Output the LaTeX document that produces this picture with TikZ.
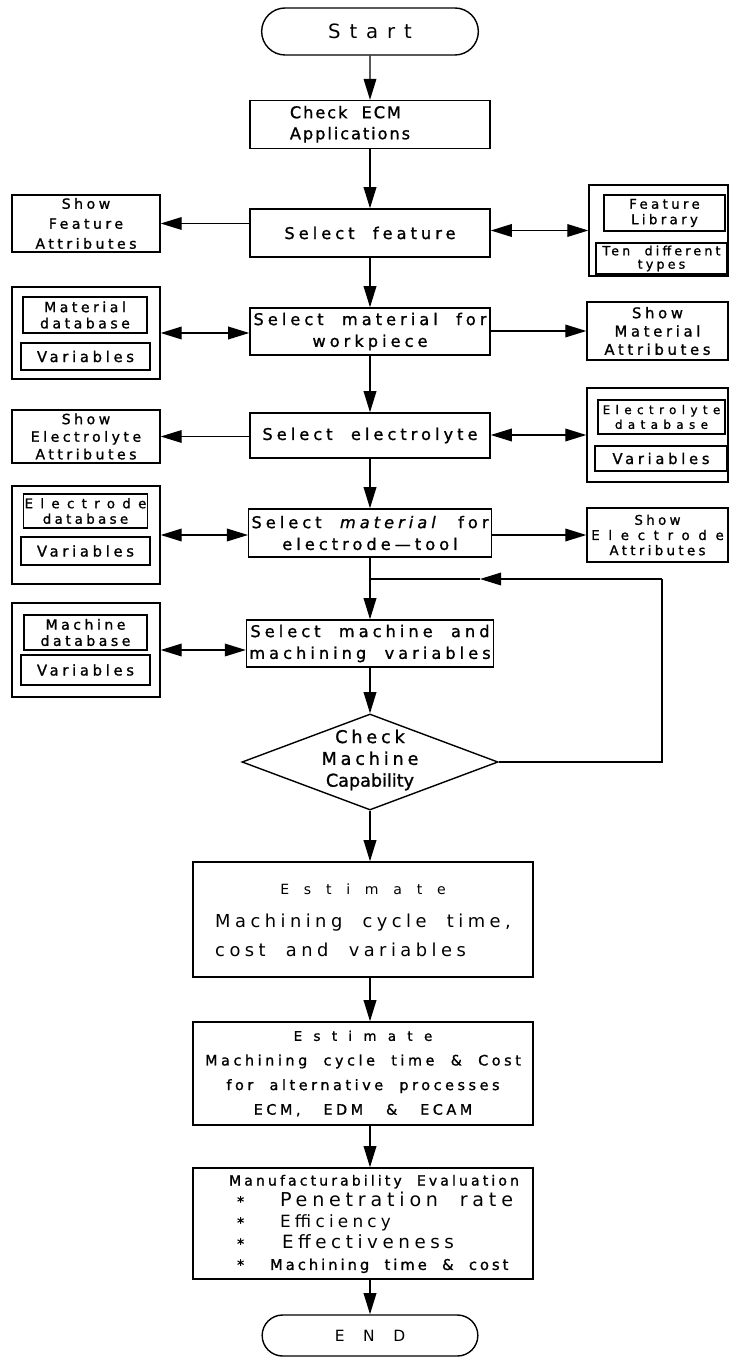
\documentclass[tikz,border=0pt]{standalone}
\usepackage{fontspec}
\setmainfont{DejaVu Sans}[LetterSpace=25,WordSpace=2,FakeBold=1.2]
\newfontfamily\widefont{DejaVu Sans}[LetterSpace=25,WordSpace=2.6]
\newfontfamily\thinfont{DejaVu Sans}[LetterSpace=25,WordSpace=2]
\usetikzlibrary{arrows.meta,shapes.geometric,shapes.misc}

\tikzset{
  proc/.style={draw,line width=1pt,minimum width=6cm,align=center,inner sep=2pt,
    font=\fontsize{11.5}{15.5}\selectfont},
  side/.style={draw,line width=0.9pt,minimum width=3.7cm,align=center,inner sep=1pt,
    font=\fontsize{10}{13}\selectfont},
  grp/.style={draw,line width=0.9pt,minimum width=3.7cm},
  db/.style={draw,line width=0.9pt,align=center,inner sep=1pt,
    font=\fontsize{10}{11.5}\selectfont},
  term/.style={draw,line width=1pt,rounded rectangle,minimum width=5.65cm,minimum height=1.175cm},
  flow/.style={line width=1pt,-{Triangle[length=15pt,width=9pt]}},
  twoway/.style={line width=1pt,{Triangle[length=15pt,width=9pt]}-{Triangle[length=15pt,width=9pt]}},
}

\begin{document}
\begin{tikzpicture}[x=0.025cm,y=-0.025cm]
\useasboundingbox (0,0) rectangle (729,1358);

% main column
\node[term] (start) at (370,31.5) {\thinfont\fontsize{14}{16}\selectfont\addfontfeature{LetterSpace=45}Start};
\node[proc,minimum height=1.125cm,font=\fontsize{11.5}{15}\selectfont\addfontfeature{LetterSpace=12}] (ecm) at (370,124.5)
  {\begin{tabular}{@{}l@{\hspace{1cm}}}Check ECM\\Applications\end{tabular}};
\node[proc,minimum height=1.2cm] (feat) at (370,233) {Select feature};
\node[proc,minimum height=1.175cm] (mat) at (370,331.5) {Select material for\\workpiece};
\node[proc,minimum height=1.125cm] (elyte) at (370,435.5) {Select electrolyte};
\node[proc,minimum height=1.2cm] (etool) at (370,533) {Select \textit{material} for\\electrode—tool};
\node[proc,minimum height=1.175cm] (mach) at (370,643.5) {Select machine and\\machining variables};
\node[draw,diamond,line width=1pt,minimum width=6.4cm,minimum height=2.4cm,inner sep=0pt] (cap) at (370,762) {};
\node[align=center,font=\fontsize{12.5}{15.5}\selectfont\addfontfeature{LetterSpace=22}] (captxt) at (370,760)
  {Check\\Machine\\{\addfontfeature{LetterSpace=0}Capability}};

% estimates
\node[proc,minimum width=8.5cm,minimum height=2.875cm,font=\widefont\fontsize{12.7}{20}\selectfont] (est1) at (363,919.5)
  {\begin{tabular}{@{}l@{}}
   \multicolumn{1}{@{}c@{}}{\fontsize{10}{20}\selectfont\addfontfeature{LetterSpace=105}Estimate}\\[4pt]
   Machining cycle time,\\
   cost and variables
   \end{tabular}};
\node[proc,minimum width=8.5cm,minimum height=2.575cm,font=\fontsize{10.2}{17.5}\selectfont] (est2) at (363,1073.5)
  {{\fontsize{9.5}{16}\selectfont\addfontfeature{LetterSpace=85}Estimate}\\
   Machining cycle time \& Cost\\
   for alternative processes\\
   ECM,\hspace{1.6em}EDM\hspace{1.6em}\&\hspace{1.6em}ECAM};
\node[proc,minimum width=8.5cm,minimum height=2.675cm,font=\fontsize{10}{15}\selectfont] (mfg) at (363,1223.5)
  {\begin{tabular}{@{\hspace{0.55cm}}l@{}}
   {\addfontfeature{LetterSpace=22}Manufacturability Evaluation}\\
   \hspace*{0.2cm}\makebox[1.075cm][l]{*}{\thinfont\fontsize{13.6}{15}\selectfont Penetration rate}\\
   \hspace*{0.2cm}\makebox[1.075cm][l]{*}{\thinfont\fontsize{12}{15}\selectfont Efficiency}\\
   \hspace*{0.2cm}\makebox[1.125cm][l]{*}{\thinfont\fontsize{13}{15}\selectfont Effectiveness}\\
   \hspace*{0.2cm}\makebox[0.825cm][l]{*}{\fontsize{10.5}{15}\selectfont\addfontfeature{LetterSpace=20}Machining time \& cost}
   \end{tabular}};
\node[term,minimum width=5.625cm,minimum height=1.025cm] (finish) at (370,1335.5)
  {\thinfont\fontsize{11}{13}\selectfont\addfontfeature{LetterSpace=120}END};

% left side
\node[side,minimum height=1.425cm,font=\fontsize{10}{14.2}\selectfont] (showfeat) at (86,223.5) {Show\\Feature\\Attributes};
\node[grp,minimum height=2.3cm] (matgrp) at (86,333) {};
\node[db,minimum width=3.1cm,minimum height=0.9cm] (matdb) at (85,315) {Material\\database};
\node[db,minimum width=3.225cm,minimum height=0.675cm,font=\fontsize{10.5}{12}\selectfont] (matvar) at (85.5,356.5) {Variables};
\node[side,minimum height=1.325cm,font=\fontsize{10}{12.5}\selectfont] (showelyte) at (86,436.5) {Show\\Electrolyte\\Attributes};
\node[grp,minimum height=2.45cm] (egrp) at (86,535) {};
\node[db,minimum width=3.075cm,minimum height=0.85cm,font=\fontsize{9.5}{11}\selectfont] (edb) at (85.5,511)
  {{\addfontfeature{LetterSpace=55}Electrode}\\database};
\node[db,minimum width=3.225cm,minimum height=0.7cm,font=\fontsize{10.5}{12}\selectfont] (evar) at (85.5,551) {Variables};
\node[grp,minimum height=2.35cm] (machgrp) at (86,650) {};
\node[db,minimum width=3.075cm,minimum height=0.875cm] (machdb) at (85.5,632.5) {Machine\\database};
\node[db,minimum width=3.225cm,minimum height=0.75cm,font=\fontsize{10.5}{12}\selectfont] (machvar) at (85.5,670) {Variables};

% right side
\node[grp,minimum width=3.475cm,minimum height=2.275cm] (featgrp) at (658.5,230.5) {};
\node[db,minimum width=3.025cm,minimum height=0.9cm,font=\fontsize{9.5}{11}\selectfont] (featlib) at (664.5,213) {Feature\\Library};
\node[db,minimum width=3.275cm,minimum height=0.775cm,font=\fontsize{9}{9.5}\selectfont] (types) at (661.5,258.5) {Ten different\\types};
\node[side,minimum width=3.525cm,minimum height=1.45cm,font=\fontsize{10.5}{13}\selectfont] (showmat) at (657.5,331) {Show\\Material\\Attributes};
\node[grp,minimum width=3.525cm,minimum height=2.35cm] (elytegrp) at (657.5,435) {};
\node[db,minimum width=3.175cm,minimum height=0.85cm,font=\fontsize{8.5}{10.5}\selectfont\addfontfeature{LetterSpace=45}] (elytedb) at (661.5,417) {Electrolyte\\database};
\node[db,minimum width=3.3cm,minimum height=0.625cm,font=\fontsize{10.5}{12}\selectfont] (elytevar) at (661,458.5) {Variables};
\node[side,minimum width=3.525cm,minimum height=1.35cm,font=\fontsize{9.5}{10.8}\selectfont] (showetool) at (657.5,535)
  {Show\\{\addfontfeature{LetterSpace=65}Electrode}\\Attributes};

% main flow
\draw[flow] (start) -- (ecm);
\draw[flow] (ecm) -- (feat);
\draw[flow] (feat) -- (mat);
\draw[flow] (mat) -- (elyte);
\draw[flow] (elyte) -- (etool);
\draw[flow] (etool) -- (mach);
\draw[flow] (mach) -- (cap);
\draw[flow] (cap.south) -- (cap.south |- est1.north);
\draw[flow] (cap.south |- est1.south) -- (cap.south |- est2.north);
\draw[flow] (cap.south |- est2.south) -- (cap.south |- mfg.north);
\draw[flow] (cap.south |- mfg.south) -- (finish.north);

% side links
\draw[flow] (feat.west |- showfeat.east) -- (showfeat.east);
\draw[twoway] (feat.east |- featgrp.west) -- (featgrp.west);
\draw[twoway] (matgrp.east) -- (mat.west |- matgrp.east);
\draw[flow] (mat.east |- showmat.west) -- (showmat.west);
\draw[flow] (elyte.west |- showelyte.east) -- (showelyte.east);
\draw[twoway] (elyte.east |- elytegrp.west) -- (elytegrp.west);
\draw[twoway] (egrp.east) -- (etool.west |- egrp.east);
\draw[flow] (etool.east |- showetool.west) -- (showetool.west);
\draw[twoway] (machgrp.east) -- (mach.west |- machgrp.east);

% loop back
\coordinate (join) at (370,579);
\coordinate (fbtop) at (662,579);
\coordinate (fbtip) at (480,579);
\draw[line width=1pt] (cap.east) -| (fbtop);
\draw[flow] (fbtop) -- (fbtip);
\draw[line width=1pt] (fbtip) -- (join);
\end{tikzpicture}
\end{document}
